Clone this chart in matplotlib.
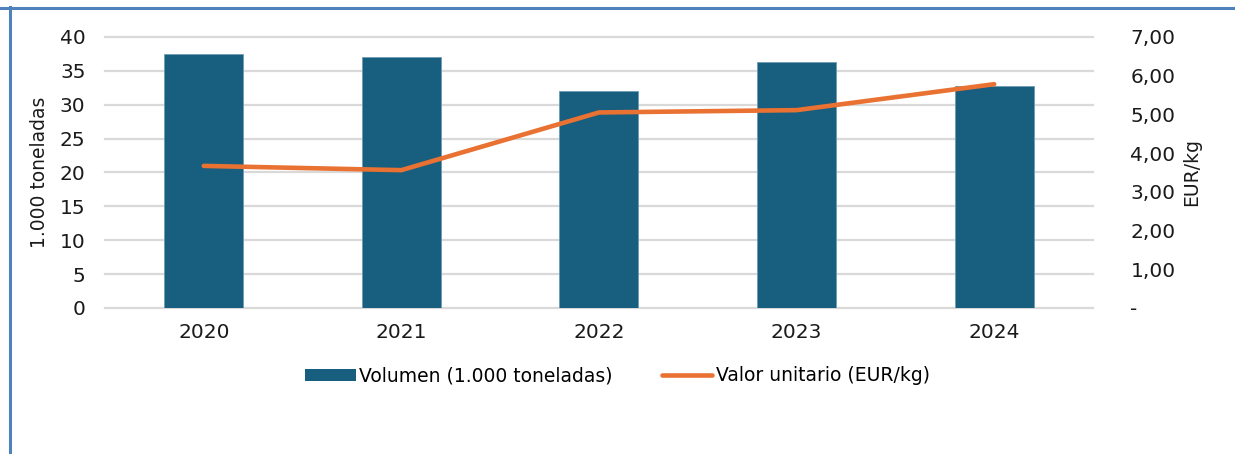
import matplotlib.pyplot as plt
from matplotlib.lines import Line2D
from matplotlib.patches import Patch

years = ["2020", "2021", "2022", "2023", "2024"]
volumen = [37.5, 37.0, 32.0, 36.3, 32.7]          # 1.000 toneladas
valor_unitario = [3.67, 3.56, 5.05, 5.11, 5.78]   # EUR/kg

left_ticks = [0, 5, 10, 15, 20, 25, 30, 35, 40]
right_ticks = [0, 1, 2, 3, 4, 5, 6, 7]
right_labels = ["-", "1,00", "2,00", "3,00", "4,00", "5,00", "6,00", "7,00"]

BAR_COLOR = "#175E7F"
LINE_COLOR = "#E97132"
GRID_COLOR = "#D9D9D9"
TEXT_COLOR = "#1A1A1A"

plt.rcParams["font.family"] = ["DejaVu Sans"]

fig = plt.figure(figsize=(12.35, 4.54), dpi=100)
ax = fig.add_axes([0.085, 0.3216, 0.80, 0.597])
ax2 = ax.twinx()

x = list(range(len(years)))
ax.bar(x, volumen, width=0.4, color=BAR_COLOR, edgecolor="#6E9BB3", linewidth=0.6, zorder=2)
ax.set_xlim(-0.5, len(years) - 0.5)
ax.set_ylim(0, 40)
ax.set_yticks(left_ticks)
ax.set_xticks(x)
ax.set_xticklabels(years)
ax.grid(axis="y", color=GRID_COLOR, linewidth=1.6, zorder=0)
for gl in ax.get_ygridlines():
    gl.set_clip_on(False)
ax.set_axisbelow(True)
ax.set_ylabel("1.000 toneladas", fontsize=13.5, color=TEXT_COLOR, labelpad=8)

ax2.plot(x, valor_unitario, color=LINE_COLOR, linewidth=3.3,
         solid_capstyle="round", solid_joinstyle="round", zorder=3)
ax2.set_ylim(0, 7)
ax2.set_yticks(right_ticks)
ax2.set_yticklabels(right_labels)
ax2.set_ylabel("EUR/kg", fontsize=13.5, color=TEXT_COLOR, labelpad=5)

for a in (ax, ax2):
    for s in a.spines.values():
        s.set_visible(False)
    a.tick_params(length=0, labelsize=14.5, colors=TEXT_COLOR)
ax.tick_params(axis="x", pad=11)
ax.tick_params(axis="y", pad=14)
ax2.tick_params(axis="y", pad=27)

handles = [
    Patch(facecolor=BAR_COLOR, label="Volumen (1.000 toneladas)"),
    Line2D([0], [0], color=LINE_COLOR, linewidth=3.3, solid_capstyle="round",
           label="Valor unitario (EUR/kg)"),
]
fig.legend(handles=handles, loc="center", bbox_to_anchor=(0.5, 0.172), ncol=2,
           frameon=False, handlelength=2.7, handleheight=0.6, handletextpad=0.2,
           columnspacing=2.6, prop={"family": ["DejaVu Sans"], "size": 13.5})

# blue frame along the top and left
fig.add_artist(Line2D([0, 1], [1 - 7.5 / 454, 1 - 7.5 / 454], transform=fig.transFigure,
                      color="#4F81BD", linewidth=2.2))
fig.add_artist(Line2D([9.5 / 1235, 9.5 / 1235], [0, 1 - 6.5 / 454], transform=fig.transFigure,
                      color="#4F81BD", linewidth=2.2))

fig.savefig("out.png", dpi=100)
